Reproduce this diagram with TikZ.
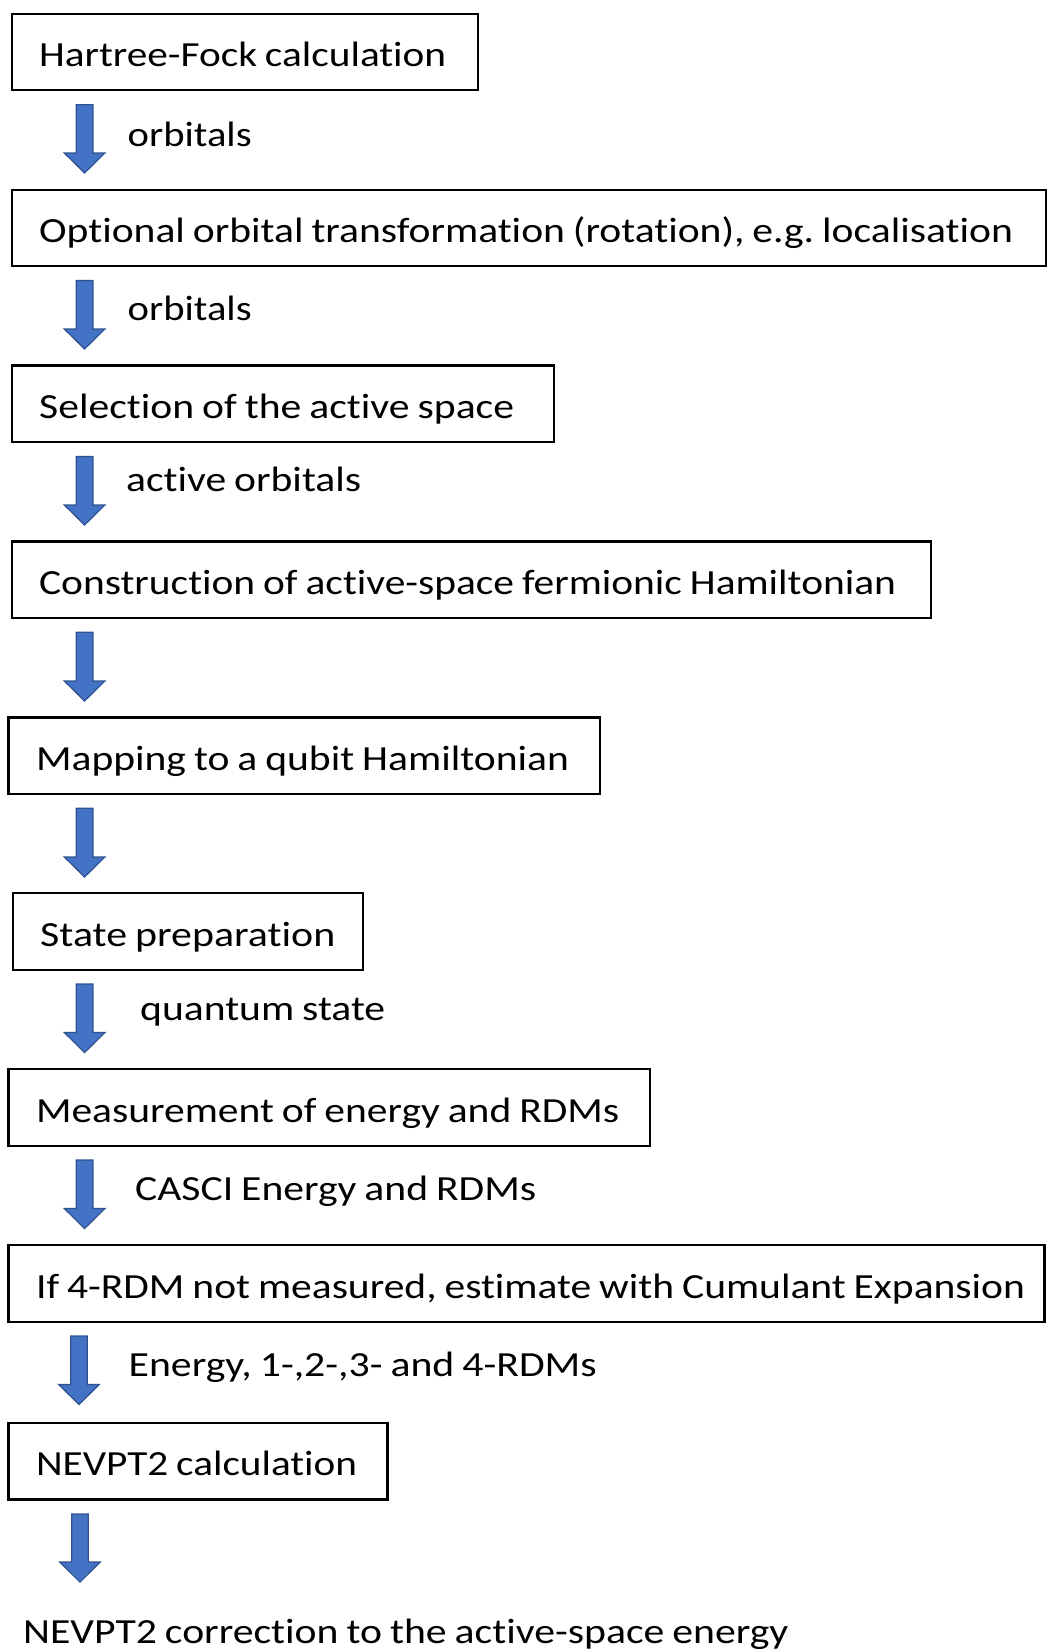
\documentclass[tikz,border=0pt]{standalone}
\usepackage{fontspec}
\setmainfont{Carlito}[WordSpace=0.85, Ligatures={NoCommon}]
\usetikzlibrary{calc}
\frenchspacing
\definecolor{arrfill}{HTML}{4472C4}
\definecolor{arrline}{HTML}{2F528F}
\newcommand\fitw[2]{\resizebox{#1pt}{\height}{#2}}
\newcommand\boxtxt[3]{\makebox[#1pt][l]{\fitw{#2}{#3}}}
\newcommand\blockarrow[2]{%
  \filldraw[blockarr] ($(#1)+(-8.3,0)$) -- ($(#2)+(-8.3,-20)$) -- ($(#2)+(-20.3,-20)$) -- (#2)
    -- ($(#2)+(20.3,-20)$) -- ($(#2)+(8.3,-20)$) -- ($(#1)+(8.3,0)$) -- cycle;}
\begin{document}
\begin{tikzpicture}[x=1pt,y=-1pt,
  flowbox/.style={draw=black, line width=2.3pt, anchor=north west, inner xsep=27.5pt, inner ysep=0pt,
    text height=53pt, text depth=23.5pt, font=\fontsize{35.3}{40}\selectfont},
  lbl/.style={anchor=base west, inner sep=0pt, font=\fontsize{35.3}{40}\selectfont},
  blockarr/.style={fill=arrfill, draw=arrline, line width=1.2pt, line join=miter}]
\useasboundingbox[fill=white] (0,0) rectangle (1049,1652);

\node[flowbox] (b1) at (10.5,12.6) {\boxtxt{411.5}{407}{Hartree-Fock calculation}};
\node[flowbox] (b2) at (10.5,188.5) {\boxtxt{979.5}{974}{Optional orbital transformation (rotation), e.g. localisation}};
\node[flowbox] (b3) at (10.5,364.4) {\boxtxt{487.5}{475}{Selection of the active space}};
\node[flowbox] (b4) at (10.5,540.3) {\boxtxt{864.5}{857}{Construction of active-space fermionic Hamiltonian}};
\node[flowbox] (b5) at (7.4,716.2) {\boxtxt{536.6}{533}{Mapping to a qubit Hamiltonian}};
\node[flowbox] (b6) at (11.6,892) {\boxtxt{295}{295}{State preparation}};
\node[flowbox] (b7) at (7.4,1068) {\boxtxt{586.6}{583}{Measurement of energy and RDMs}};
\node[flowbox] (b8) at (7.4,1244) {\boxtxt{981}{989}{If 4-RDM not measured, estimate with Cumulant Expansion}};
\node[flowbox] (b9) at (7.4,1421.8) {\boxtxt{324}{321}{NEVPT2 calculation}};
\node[lbl] (fin) at (23,1643) {\fitw{765}{NEVPT2 correction to the active-space energy}};

\node[lbl] (l1) at (127.5,146.7) {\fitw{124}{orbitals}};
\node[lbl] (l2) at (127.5,320) {\fitw{124}{orbitals}};
\node[lbl] (l3) at (126,491.5) {\fitw{235}{active orbitals}};
\node[lbl] (l6) at (140,1020) {\fitw{245}{quantum state}};
\node[lbl] (l7) at (135,1200) {\fitw{401}{CASCI Energy and RDMs}};
\node[lbl] (l8) at (128.5,1376.5) {\fitw{468}{Energy, 1-,2-,3- and 4-RDMs}};

\coordinate (a1s) at (84.6,104.6);  \coordinate (a1e) at (84.6,173);
\coordinate (a2s) at (84.6,280.5);  \coordinate (a2e) at (84.6,349);
\coordinate (a3s) at (84.6,456.4);  \coordinate (a3e) at (84.6,525);
\coordinate (a4s) at (84.6,632.3);  \coordinate (a4e) at (84.6,701);
\coordinate (a5s) at (84.6,808.2);  \coordinate (a5e) at (84.6,877);
\coordinate (a6s) at (84.6,984);    \coordinate (a6e) at (84.6,1052.5);
\coordinate (a7s) at (84.6,1160);   \coordinate (a7e) at (84.6,1228.5);
\coordinate (a8s) at (79,1336);     \coordinate (a8e) at (79,1404.5);
\coordinate (a9s) at (80,1514);     \coordinate (a9e) at (80,1582);
\blockarrow{a1s}{a1e}
\blockarrow{a2s}{a2e}
\blockarrow{a3s}{a3e}
\blockarrow{a4s}{a4e}
\blockarrow{a5s}{a5e}
\blockarrow{a6s}{a6e}
\blockarrow{a7s}{a7e}
\blockarrow{a8s}{a8e}
\blockarrow{a9s}{a9e}
\end{tikzpicture}
\end{document}
